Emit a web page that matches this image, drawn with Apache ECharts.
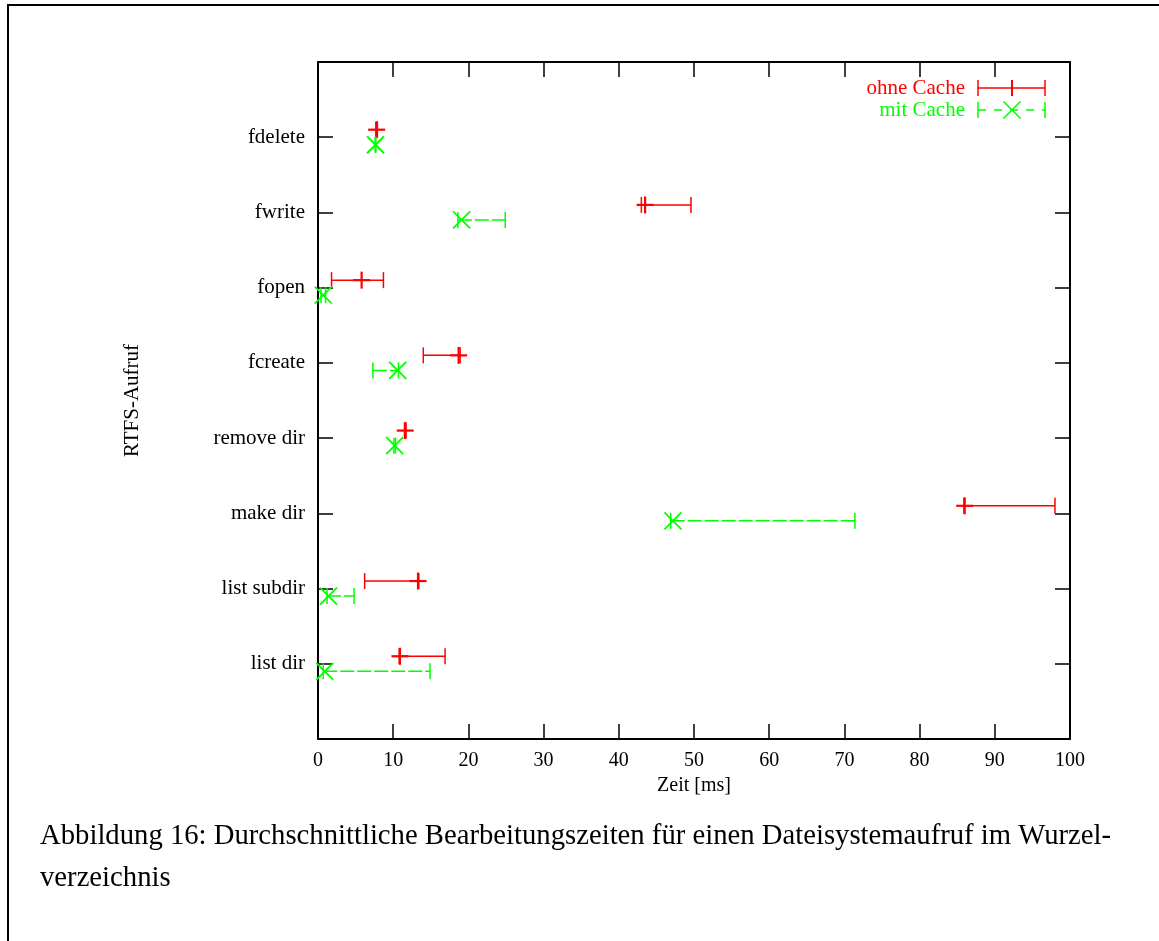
<!DOCTYPE html>
<html>
<head>
<meta charset="utf-8">
<script src="https://cdn.jsdelivr.net/npm/echarts@6/dist/echarts.min.js"></script>
<style>
html,body{margin:0;padding:0;background:#fff;}
#chart{width:1159px;height:941px;}
</style>
</head>
<body>
<div id="chart"></div>
<script>
// Categories from bottom (1) to top (8)
var categories = ['list dir','list subdir','make dir','remove dir','fcreate','fopen','fwrite','fdelete'];
// ohne Cache (red): mean, lower and upper limit in ms
var ohneMean = [10.9, 13.3, 86.0, 11.6, 18.7, 5.8, 43.5, 7.8];
var ohneLow  = [10.8,  6.2, 85.9, 11.5, 14.0, 1.8, 43.0, 7.7];
var ohneHigh = [16.9, 13.4, 98.0, 11.7, 18.9, 8.7, 49.6, 7.9];
// mit Cache (green)
var mitMean = [0.9, 1.4, 47.2, 10.2, 10.6, 0.7, 19.1, 7.65];
var mitLow  = [0.7, 1.2, 46.9, 10.1,  7.3, 0.4, 18.6, 7.6];
var mitHigh = [14.9, 4.8, 71.4, 10.3, 10.7, 1.0, 24.9, 7.7];
var xTicks = [0,10,20,30,40,50,60,70,80,90,100];

var RED = '#ff0000', GREEN = '#00ff00';
var FONT = '"Liberation Serif","DejaVu Serif",serif';
var OFFSET = 0.1;

function buildData(mean, low, high, off) {
  return categories.map(function (c, i) {
    return [low[i], high[i], i + 1 + off, mean[i]];
  });
}

function makeRender(color, marker, dashed) {
  return function (params, api) {
    var y = api.value(2);
    var pl = api.coord([api.value(0), y]);
    var ph = api.coord([api.value(1), y]);
    var pm = api.coord([api.value(3), y]);
    var cap = 8;
    var ls = { stroke: color, lineWidth: 1.5, lineDash: dashed ? [14, 3] : null };
    var cs = { stroke: color, lineWidth: 1.5 };
    var children = [
      { type: 'line', shape: { x1: pl[0], y1: pl[1], x2: ph[0], y2: ph[1] }, style: ls },
      { type: 'line', shape: { x1: pl[0], y1: pl[1] - cap, x2: pl[0], y2: pl[1] + cap }, style: cs },
      { type: 'line', shape: { x1: ph[0], y1: ph[1] - cap, x2: ph[0], y2: ph[1] + cap }, style: cs }
    ];
    var m = 8.5;
    if (marker === 'plus') {
      children.push({ type: 'line', shape: { x1: pm[0] - m, y1: pm[1], x2: pm[0] + m, y2: pm[1] }, style: { stroke: color, lineWidth: 2.2 } });
      children.push({ type: 'line', shape: { x1: pm[0], y1: pm[1] - m, x2: pm[0], y2: pm[1] + m }, style: { stroke: color, lineWidth: 2.2 } });
    } else {
      children.push({ type: 'line', shape: { x1: pm[0] - m, y1: pm[1] - m, x2: pm[0] + m, y2: pm[1] + m }, style: { stroke: color, lineWidth: 1.8 } });
      children.push({ type: 'line', shape: { x1: pm[0] - m, y1: pm[1] + m, x2: pm[0] + m, y2: pm[1] - m }, style: { stroke: color, lineWidth: 1.8 } });
    }
    return { type: 'group', children: children };
  };
}

var axisLineStyle = { color: '#000', width: 2 };
var tickStyle = { color: '#000', width: 1.5 };

var chart = echarts.init(document.getElementById('chart'), null, { renderer: 'canvas' });
chart.setOption({
  animation: false,
  backgroundColor: '#fff',
  grid: { left: 318, top: 62, width: 752, height: 677, containLabel: false },
  xAxis: [
    {
      type: 'value', min: 0, max: 100, interval: 10, position: 'bottom',
      name: 'Zeit [ms]', nameLocation: 'middle', nameGap: 37,
      nameTextStyle: { fontFamily: FONT, fontSize: 20, color: '#000' },
      axisLine: { show: true, onZero: false, lineStyle: axisLineStyle },
      axisTick: { show: true, inside: true, length: 15, lineStyle: tickStyle },
      axisLabel: { fontFamily: FONT, fontSize: 20, color: '#000', margin: 12,
        formatter: function (v) { return xTicks.indexOf(v) >= 0 ? String(v) : ''; } },
      splitLine: { show: false }
    },
    {
      type: 'value', min: 0, max: 100, interval: 10, position: 'top',
      axisLine: { show: true, onZero: false, lineStyle: axisLineStyle },
      axisTick: { show: true, inside: true, length: 15, lineStyle: tickStyle },
      axisLabel: { show: false }, splitLine: { show: false }
    }
  ],
  yAxis: [
    {
      type: 'value', min: 0, max: 9, interval: 1, position: 'left',
      name: 'RTFS-Aufruf', nameLocation: 'middle', nameGap: 175, nameRotate: 90,
      nameTextStyle: { fontFamily: FONT, fontSize: 21, color: '#000' },
      axisLine: { show: true, onZero: false, lineStyle: axisLineStyle },
      axisTick: { show: true, inside: true, length: 15, lineStyle: tickStyle },
      axisLabel: { fontFamily: FONT, fontSize: 21, color: '#000', margin: 13,
        formatter: function (v) { return (v >= 1 && v <= categories.length) ? categories[v - 1] : ''; } },
      splitLine: { show: false }
    },
    {
      type: 'value', min: 0, max: 9, interval: 1, position: 'right',
      axisLine: { show: true, onZero: false, lineStyle: axisLineStyle },
      axisTick: { show: true, inside: true, length: 15, lineStyle: tickStyle },
      axisLabel: { show: false }, splitLine: { show: false }
    }
  ],
  series: [
    {
      name: 'ohne Cache', type: 'custom', clip: false,
      xAxisIndex: 0, yAxisIndex: 0,
      renderItem: makeRender(RED, 'plus', false),
      encode: { x: [0, 1, 3], y: 2 },
      data: buildData(ohneMean, ohneLow, ohneHigh, OFFSET)
    },
    {
      name: 'mit Cache', type: 'custom', clip: false,
      xAxisIndex: 0, yAxisIndex: 0,
      renderItem: makeRender(GREEN, 'cross', true),
      encode: { x: [0, 1, 3], y: 2 },
      data: buildData(mitMean, mitLow, mitHigh, -OFFSET)
    }
  ],
  graphic: [
    // page frame
    { type: 'polyline', shape: { points: [[8, 945], [8, 5], [1165, 5]] }, style: { stroke: '#000', lineWidth: 2, fill: null } },
    // legend
    { type: 'text', x: 965, y: 88, style: { text: 'ohne Cache', fill: RED, font: '21px ' + FONT, align: 'right', verticalAlign: 'middle' } },
    { type: 'line', shape: { x1: 978, y1: 88, x2: 1045, y2: 88 }, style: { stroke: RED, lineWidth: 1.5 } },
    { type: 'line', shape: { x1: 978, y1: 80, x2: 978, y2: 96 }, style: { stroke: RED, lineWidth: 1.5 } },
    { type: 'line', shape: { x1: 1045, y1: 80, x2: 1045, y2: 96 }, style: { stroke: RED, lineWidth: 1.5 } },
    { type: 'line', shape: { x1: 1012, y1: 80, x2: 1012, y2: 96 }, style: { stroke: RED, lineWidth: 2 } },
    { type: 'text', x: 965, y: 110, style: { text: 'mit Cache', fill: GREEN, font: '21px ' + FONT, align: 'right', verticalAlign: 'middle' } },
    { type: 'line', shape: { x1: 978, y1: 110, x2: 1045, y2: 110 }, style: { stroke: GREEN, lineWidth: 1.5, lineDash: [8, 8] } },
    { type: 'line', shape: { x1: 978, y1: 102, x2: 978, y2: 118 }, style: { stroke: GREEN, lineWidth: 1.5 } },
    { type: 'line', shape: { x1: 1045, y1: 102, x2: 1045, y2: 118 }, style: { stroke: GREEN, lineWidth: 1.5 } },
    { type: 'line', shape: { x1: 1003.5, y1: 101.5, x2: 1020.5, y2: 118.5 }, style: { stroke: GREEN, lineWidth: 1.6 } },
    { type: 'line', shape: { x1: 1003.5, y1: 118.5, x2: 1020.5, y2: 101.5 }, style: { stroke: GREEN, lineWidth: 1.6 } },
    // caption
    { type: 'text', x: 40, y: 836, style: { text: 'Abbildung 16: Durchschnittliche Bearbeitungszeiten für einen Dateisystemaufruf im Wurzel-', fill: '#000', font: '28.7px ' + FONT, verticalAlign: 'middle' } },
    { type: 'text', x: 40, y: 878, style: { text: 'verzeichnis', fill: '#000', font: '28.7px ' + FONT, verticalAlign: 'middle' } }
  ]
});
</script>
</body>
</html>
